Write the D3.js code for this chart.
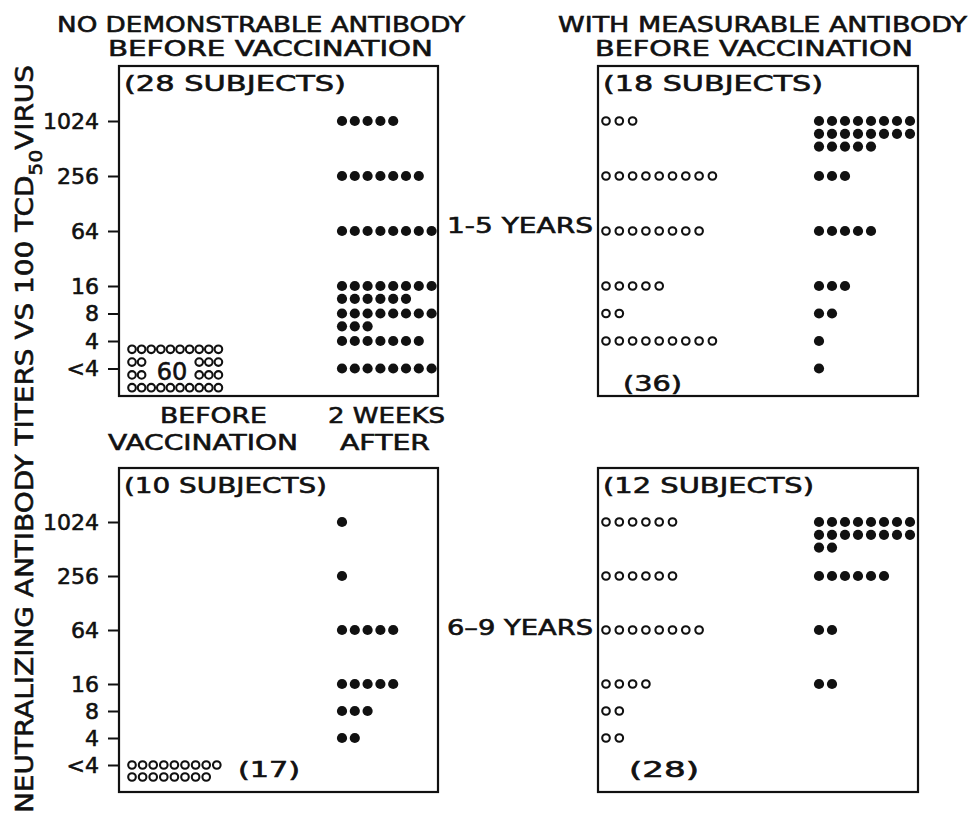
<!DOCTYPE html>
<html>
<head>
<meta charset="utf-8">
<script src="https://cdn.jsdelivr.net/npm/d3@7"></script>
<style>
  body { margin: 0; background: #fff; }
  svg text { font-family: "DejaVu Sans", sans-serif; fill: #111; stroke: #111; stroke-width: 0.6px; }
</style>
</head>
<body>
<svg id="chart" width="977" height="814"></svg>
<script>
// titer categories, "<4" is plotted one two-fold dilution below 4
const titerLabels = ["<4", "4", "8", "16", "64", "256", "1024"];
const titerValues = [2, 4, 8, 16, 64, 256, 1024];

// number of determinations at each titer (same order as titerLabels)
const young_noAb_before   = [60, 0, 0, 0, 0, 0, 0];
const young_noAb_after    = [8, 7, 11, 14, 8, 7, 5];
const young_withAb_before = [36, 9, 2, 5, 8, 9, 3];
const young_withAb_after  = [1, 1, 2, 3, 5, 3, 21];
const older_noAb_before   = [17, 0, 0, 0, 0, 0, 0];
const older_noAb_after    = [0, 2, 3, 5, 5, 1, 1];
const older_withAb_before = [28, 2, 2, 4, 8, 6, 6];
const older_withAb_after  = [0, 0, 0, 2, 2, 6, 18];

const subjectCounts = [28, 18, 10, 12];
const groupTitles = [
  ["NO DEMONSTRABLE ANTIBODY", "BEFORE VACCINATION"],
  ["WITH MEASURABLE ANTIBODY", "BEFORE VACCINATION"]
];
const ageLabels = ["1-5 YEARS", "6–9 YEARS"];
const timeLabels = [["BEFORE", "VACCINATION"], ["2 WEEKS", "AFTER"]];

const svg = d3.select("#chart");
const ink = "#111";

// fit a text element to a measured width
function fit(sel, w) {
  return sel.attr("textLength", w).attr("lengthAdjust", "spacingAndGlyphs");
}

// 1) layout of the 2x2 grid
const rowLayout = [{ range: [396, 66] }, { range: [792, 468] }];
const colLayout = [
  { x0: 119, x1: 438, beforeOff: 13, afterOff: 223, openStep: 10, fillStep: 12.8 },
  { x0: 598, x1: 918, beforeOff: 8,  afterOff: 221, openStep: 13.3, fillStep: 13 }
];

const panels = [
  { row: 0, col: 0, n: subjectCounts[0], before: young_noAb_before,   after: young_noAb_after,   lt4: "block" },
  { row: 0, col: 1, n: subjectCounts[1], before: young_withAb_before, after: young_withAb_after, lt4: "label", lblDx: 25, lblDy: 22 },
  { row: 1, col: 0, n: subjectCounts[2], before: older_noAb_before,   after: older_noAb_after,   lt4: "dots",  lblDx: 119, lblDy: 12 },
  { row: 1, col: 1, n: subjectCounts[3], before: older_withAb_before, after: older_withAb_after, lt4: "label", lblDx: 31, lblDy: 12 }
];

// 2) stack one column of dots: rows of at most perRow, overflow goes below
function stack(counts, y, x0, step, perRow, gap, skipFirst) {
  const pts = [];
  counts.forEach((n, i) => {
    if (skipFirst && i === 0) return;
    for (let k = 0; k < n; k++) {
      pts.push({ x: x0 + (k % perRow) * step, y: y(titerValues[i]) + Math.floor(k / perRow) * gap });
    }
  });
  return pts;
}

panels.forEach(p => {
  const R = rowLayout[p.row], C = colLayout[p.col];
  const y = d3.scaleLog().base(2).domain([1, 4096]).range(R.range);
  const g = svg.append("g");

  // box
  g.append("rect")
    .attr("x", C.x0).attr("y", R.range[1])
    .attr("width", C.x1 - C.x0).attr("height", R.range[0] - R.range[1])
    .attr("fill", "none").attr("stroke", ink).attr("stroke-width", 2.2);

  // subjects label
  fit(g.append("text")
    .attr("x", C.x0 + 5).attr("y", R.range[1] + 25)
    .attr("font-size", 21)
    .text(`(${p.n} SUBJECTS)`), p.col === 0 ? (p.row === 0 ? 222 : 203) : (p.row === 0 ? 220 : 211));

  // y axis on left column only
  if (p.col === 0) {
    const axis = g.append("g")
      .attr("transform", `translate(${C.x0},0)`)
      .call(d3.axisLeft(y)
        .tickValues(titerValues)
        .tickFormat((d, i) => titerLabels[i])
        .tickSize(11).tickPadding(9));
    axis.select(".domain").remove();
    axis.selectAll(".tick line").attr("stroke", ink).attr("stroke-width", 2);
    axis.selectAll(".tick text")
      .attr("font-size", 22).attr("fill", ink)
      .attr("font-family", "DejaVu Sans, sans-serif");
  }

  const bx = C.x0 + C.beforeOff, ax = C.x0 + C.afterOff;
  let open = stack(p.before, y, bx, C.openStep, 10, 12, true);
  const filled = stack(p.after, y, ax, C.fillStep, 8, 12.8, false);

  const y4 = y(titerValues[0]);
  if (p.lt4 === "block") {
    // compact block of circles standing for the whole group
    const rowsOff = [-19.2, -6.4, 6.4, 19.2];
    rowsOff.forEach((dy, r) => {
      d3.range(10).forEach(k => {
        if ((r === 1 || r === 2) && k > 1 && k < 7) return;
        open.push({ x: bx + k * 9.6, y: y4 + dy });
      });
    });
    g.append("text").attr("x", bx + 40).attr("y", y4 + 11)
      .attr("text-anchor", "middle").attr("font-size", 24).text(p.before[0]);
  } else if (p.lt4 === "dots") {
    open = open.concat(stack([p.before[0]], y, bx, 10.6, 9, 12, false));
    fit(g.append("text").attr("x", C.x0 + p.lblDx).attr("y", y4 + p.lblDy)
      .attr("font-size", 21).text(`(${p.before[0]})`), 62);
  } else {
    fit(g.append("text").attr("x", C.x0 + p.lblDx).attr("y", y4 + p.lblDy)
      .attr("font-size", 21).text(`(${p.before[0]})`), p.row === 0 ? 59 : 70);
  }

  g.selectAll("circle.open").data(open).join("circle")
    .attr("class", "open")
    .attr("cx", d => d.x).attr("cy", d => d.y).attr("r", 3.8)
    .attr("fill", "#fff").attr("stroke", ink).attr("stroke-width", 2.1);

  g.selectAll("circle.filled").data(filled).join("circle")
    .attr("class", "filled")
    .attr("cx", d => d.x).attr("cy", d => d.y).attr("r", 5.1)
    .attr("fill", ink);
});

// 3) group titles
const titleSpec = [
  { x: 57, w1: 408, x2: 108, w2: 325 },
  { x: 558, w1: 409, x2: 595, w2: 318 }
];
groupTitles.forEach((t, i) => {
  const s = titleSpec[i];
  fit(svg.append("text").attr("x", s.x).attr("y", 32).attr("font-size", 21).text(t[0]), s.w1);
  fit(svg.append("text").attr("x", s.x2).attr("y", 56).attr("font-size", 21).text(t[1]), s.w2);
});

// 4) column captions under the top-left panel
const capSpec = [
  [{ x: 160, w: 107 }, { x: 108, w: 190 }],
  [{ x: 328, w: 117 }, { x: 340, w: 90 }]
];
timeLabels.forEach((lines, i) => {
  lines.forEach((txt, j) => {
    fit(svg.append("text").attr("x", capSpec[i][j].x).attr("y", 423 + j * 27)
      .attr("font-size", 22).text(txt), capSpec[i][j].w);
  });
});

// 5) age labels between columns
ageLabels.forEach((txt, i) => {
  fit(svg.append("text").attr("x", 447).attr("y", i === 0 ? 233 : 635)
    .attr("font-size", 21).text(txt), 146);
});

// 6) y-axis title
const yt = svg.append("text")
  .attr("transform", "translate(33,813) rotate(-90)")
  .attr("font-size", 25)
  .attr("textLength", 748).attr("lengthAdjust", "spacingAndGlyphs");
yt.append("tspan").text("NEUTRALIZING ANTIBODY TITERS VS 100 TCD");
yt.append("tspan").attr("dy", 9).attr("font-size", 18).text("50");
yt.append("tspan").attr("dy", -9).text("VIRUS");
</script>
</body>
</html>
